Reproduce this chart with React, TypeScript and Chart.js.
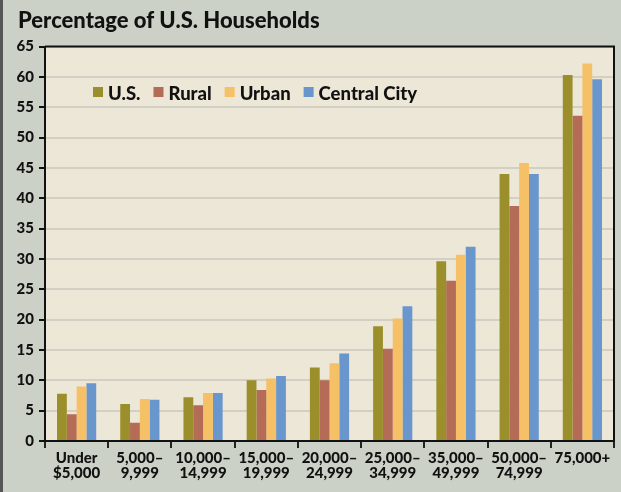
import React, { useEffect, useRef } from 'react';
import { Chart, registerables } from 'chart.js';

Chart.register(...registerables);

const titleText = 'Percentage of U.S. Households';
const categories: string[][] = [
  ['Under', '$5,000'],
  ['5,000–', '9,999'],
  ['10,000–', '14,999'],
  ['15,000–', '19,999'],
  ['20,000–', '24,999'],
  ['25,000–', '34,999'],
  ['35,000–', '49,999'],
  ['50,000–', '74,999'],
  ['75,000+'],
];
const seriesNames = ['U.S.', 'Rural', 'Urban', 'Central City'];
const usValues = [7.8, 6.1, 7.2, 10.0, 12.1, 18.9, 29.6, 44.0, 60.3];
const ruralValues = [4.4, 3.0, 5.9, 8.4, 10.0, 15.2, 26.4, 38.7, 53.6];
const urbanValues = [9.0, 6.9, 7.9, 10.3, 12.8, 20.2, 30.7, 45.8, 62.2];
const centralCityValues = [9.5, 6.8, 7.9, 10.7, 14.4, 22.2, 32.0, 44.0, 59.6];
const seriesColors = ['#9a8f2a', '#b46c56', '#f6c066', '#6996cc'];
const yMin = 0;
const yMax = 65;
const yStep = 5;

const FONT = 'Lato, "Open Sans", sans-serif';

const decorPlugin = {
  id: 'decor',
  beforeDraw(chart: any) {
    const { ctx, chartArea: a, width, height } = chart;
    ctx.save();
    ctx.fillStyle = '#cbd1c7';
    ctx.fillRect(0, 0, width, height);
    ctx.fillStyle = '#555555';
    ctx.fillRect(0, 0, 3, height);
    ctx.fillStyle = '#ede7d8';
    ctx.fillRect(a.left, a.top, a.right - a.left, a.bottom - a.top);
    ctx.restore();
  },
  afterDraw(chart: any) {
    const { ctx, chartArea: a } = chart;
    ctx.save();
    // frame top & right
    ctx.strokeStyle = '#111111';
    ctx.lineWidth = 2;
    ctx.beginPath();
    ctx.moveTo(a.left, a.top);
    ctx.lineTo(a.right, a.top);
    ctx.lineTo(a.right, a.bottom);
    ctx.stroke();
    // title
    ctx.fillStyle = '#111111';
    ctx.font = `900 22px ${FONT}`;
    ctx.textBaseline = 'alphabetic';
    ctx.textAlign = 'left';
    ctx.fillText(titleText, 18, 28);
    // legend
    ctx.font = `900 18.5px ${FONT}`;
    let x = a.left + 48;
    const boxTop = a.top + 40.5;
    chart.data.datasets.forEach((ds: any) => {
      ctx.fillStyle = ds.backgroundColor;
      ctx.fillRect(x, boxTop, 10, 10);
      ctx.fillStyle = '#111111';
      ctx.fillText(ds.label, x + 15, boxTop + 13);
      x += 15 + ctx.measureText(ds.label).width + 13;
    });
    ctx.restore();
  },
};

export default function App() {
  const canvasRef = useRef<HTMLCanvasElement | null>(null);

  useEffect(() => {
    document.body.style.margin = '0';
    const canvas = canvasRef.current;
    if (!canvas) return;
    const allValues = [usValues, ruralValues, urbanValues, centralCityValues];
    const chart = new Chart(canvas, {
      type: 'bar',
      data: {
        labels: categories,
        datasets: seriesNames.map((name, i) => ({
          label: name,
          data: allValues[i],
          backgroundColor: seriesColors[i],
          borderWidth: 0,
          categoryPercentage: 0.62,
          barPercentage: 1.0,
        })),
      },
      options: {
        animation: false,
        responsive: false,
        devicePixelRatio: 1,
        layout: { padding: { top: 46.5, right: 7, bottom: 0, left: 0 } },
        plugins: {
          legend: { display: false },
          title: { display: false },
          tooltip: { enabled: false },
        },
        scales: {
          x: {
            afterFit: (s: any) => {
              s.height = 51;
            },
            grid: {
              offset: true,
              drawOnChartArea: false,
              drawTicks: true,
              tickLength: 7,
              tickColor: '#222222',
              tickWidth: 2,
              lineWidth: 2,
            },
            border: { display: true, color: '#111111', width: 2 },
            ticks: {
              autoSkip: false,
              maxRotation: 0,
              minRotation: 0,
              padding: 2,
              color: '#111111',
              font: { family: FONT, size: 15, weight: '900', lineHeight: 1.05 },
            },
          },
          y: {
            min: yMin,
            max: yMax,
            afterFit: (s: any) => {
              s.width = 45;
            },
            grid: {
              color: '#d2d0c4',
              lineWidth: 2,
              drawTicks: true,
              tickLength: 6,
              tickColor: '#111111',
              tickWidth: 2,
            },
            border: { display: true, color: '#111111', width: 2 },
            ticks: {
              stepSize: yStep,
              padding: 5,
              color: '#111111',
              font: { family: FONT, size: 15, weight: '900' },
            },
          },
        },
      },
      plugins: [decorPlugin],
    } as any);
    return () => chart.destroy();
  }, []);

  return (
    <div style={{ width: 621, height: 492 }}>
      <canvas ref={canvasRef} width={621} height={492} style={{ display: 'block' }} />
    </div>
  );
}
